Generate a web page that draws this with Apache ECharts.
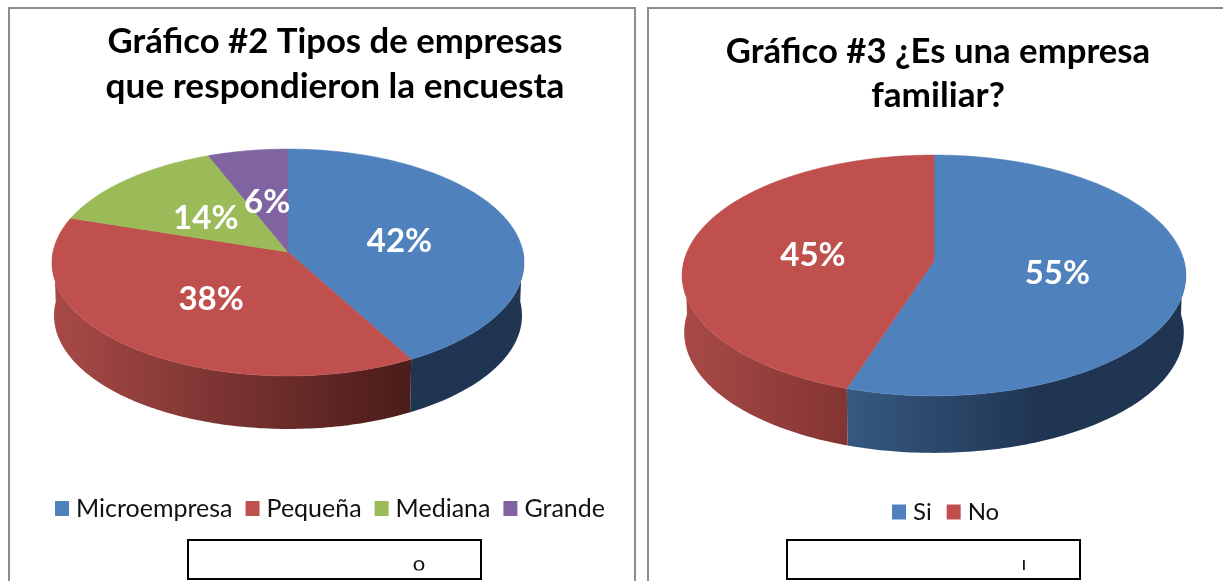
<!DOCTYPE html>
<html>
<head>
<meta charset="utf-8">
<title>Gráficos #2 y #3</title>
<style>
  html, body { margin: 0; padding: 0; background: #fff; }
  #chart { width: 1223px; height: 581px; }
</style>
<script src="https://cdn.jsdelivr.net/npm/echarts@6/dist/echarts.min.js"></script>
</head>
<body>
<div id="chart"></div>
<script>
// datos
var tiposCategorias = ['Microempresa', 'Pequeña', 'Mediana', 'Grande']
var tiposValores = [42, 38, 14, 6]
var familiarCategorias = ['Si', 'No']
var familiarValores = [55, 45]

var FONT = 'Lato'

// geometria de cada torta: circulo en perspectiva (k) con centro en apex
var pieTipos = {
  cx: 288, apexY: 252, a: 235, b: 112.5, k: 0.0925, depth: 53,
  total: tiposValores.reduce(function (x, y) { return x + y }, 0)
}
var pieFamiliar = {
  cx: 934, apexY: 261, a: 250, b: 118.7, k: 0.12, depth: 57,
  total: familiarValores.reduce(function (x, y) { return x + y }, 0)
}

// colores por porcion: cara superior y degradado lateral en x
var coloresTipos = [
  { top: '#4f81bd', from: '#1f3552', to: '#1f3552', x0: 408, x1: 524 },
  { top: '#c0504d', from: '#a84a47', to: '#4a1c1a', x0: 52, x1: 408 },
  { top: '#9bbb59', from: '#7a9446', to: '#4f602d', x0: 52, x1: 408 },
  { top: '#8064a2', from: '#65507f', to: '#40324f', x0: 52, x1: 408 }
]
var coloresFamiliar = [
  { top: '#4f81bd', from: '#36587f', to: '#1f3552', x0: 852, x1: 1040 },
  { top: '#c0504d', from: '#a84a47', to: '#823432', x0: 682, x1: 852 }
]

// punto del borde: r es la fraccion del radio, dy baja la cara lateral
function project(p, angle, r, dy, shrink) {
  var sx = r * Math.sin(angle)
  var sy = -r * Math.cos(angle)
  var w = 1 - p.k * sy
  return [
    p.cx + (p.a - (shrink || 0)) * sx / w,
    p.apexY + p.b * sy / w + (dy || 0)
  ]
}

function arcPoints(p, a0, a1, dy, shrink) {
  var n = Math.max(2, Math.ceil(Math.abs(a1 - a0) * 60))
  var pts = []
  for (var i = 0; i <= n; i++) {
    pts.push(project(p, a0 + (a1 - a0) * i / n, 1, dy, shrink))
  }
  return pts
}

function sliceItem(p, start, col) {
  return function (params, api) {
    var v = api.value(0)
    var a0 = start / p.total * Math.PI * 2
    var a1 = (start + v) / p.total * Math.PI * 2
    var children = []

    // cara lateral, solo la parte frontal
    var s0 = Math.max(a0, Math.PI / 2 - 0.03)
    var s1 = Math.min(a1, Math.PI * 1.5 + 0.03)
    if (s1 > s0) {
      var upper = arcPoints(p, s0, s1, 0, 0)
      var lower = arcPoints(p, s1, s0, p.depth, 2)
      children.push({
        type: 'polygon',
        shape: { points: upper.concat(lower) },
        style: {
          fill: new echarts.graphic.LinearGradient(col.x0, 0, col.x1, 0, [
            { offset: 0, color: col.from },
            { offset: 1, color: col.to }
          ], true)
        }
      })
    }

    // cara superior
    children.push({
      type: 'polygon',
      z2: 10,
      shape: { points: [[p.cx, p.apexY]].concat(arcPoints(p, a0, a1, 0, 0)) },
      style: { fill: col.top, stroke: col.top, lineWidth: 0.5 }
    })

    // etiqueta de porcentaje
    var pos = project(p, (a0 + a1) / 2, 0.495, 3)
    children.push({
      type: 'text',
      z2: 100,
      x: pos[0],
      y: pos[1],
      style: {
        text: Math.round(v / p.total * 100) + '%',
        fill: '#fff',
        font: 'bold 33px ' + FONT,
        align: 'center',
        verticalAlign: 'middle'
      }
    })
    return { type: 'group', children: children }
  }
}

function buildSeries(p, cats, vals, colors) {
  var acum = 0
  return cats.map(function (name, i) {
    var start = acum
    acum += vals[i]
    return {
      name: name,
      type: 'custom',
      coordinateSystem: 'none',
      silent: true,
      animation: false,
      itemStyle: { color: colors[i].top },
      renderItem: sliceItem(p, start, colors[i]),
      data: [[vals[i]]]
    }
  })
}

function legendBase(names, left, top, itemGap, fontSize) {
  return {
    data: names,
    left: left,
    top: top,
    padding: 0,
    icon: 'rect',
    itemWidth: 14,
    itemHeight: 15,
    itemGap: itemGap,
    selectedMode: false,
    textStyle: { fontFamily: FONT, fontSize: fontSize, color: '#111', padding: [0, 0, 0, 2] }
  }
}

function panelLine(x1, y1, x2, y2) {
  return {
    type: 'line',
    z: 1,
    shape: { x1: x1, y1: y1, x2: x2, y2: y2 },
    style: { stroke: '#8c8c8c', lineWidth: 2 }
  }
}

function titleText(text, x, y, size) {
  return {
    type: 'text',
    x: x,
    y: y,
    style: {
      text: text,
      fill: '#000',
      font: 'bold ' + size + 'px ' + FONT,
      align: 'center',
      verticalAlign: 'middle'
    }
  }
}

function captionBox(x, w) {
  return {
    type: 'rect',
    z: 1,
    shape: { x: x, y: 540, width: w, height: 39 },
    style: { fill: '#fff', stroke: '#000', lineWidth: 2 }
  }
}

var chart = echarts.init(document.getElementById('chart'), null, { renderer: 'canvas' })

chart.setOption({
  backgroundColor: '#fff',
  animation: false,
  legend: [
    legendBase(tiposCategorias, 55, 496, 13, 25),
    legendBase(familiarCategorias, 892, 500, 15, 24)
  ],
  series: buildSeries(pieTipos, tiposCategorias, tiposValores, coloresTipos)
    .concat(buildSeries(pieFamiliar, familiarCategorias, familiarValores, coloresFamiliar)),
  graphic: { elements: [
    // marcos de los paneles
    panelLine(9, 7, 9, 581),
    panelLine(8, 8, 636, 8),
    panelLine(635, 7, 635, 581),
    panelLine(648, 7, 648, 581),
    panelLine(647, 8, 1223, 8),
    // titulos
    titleText('Gráfico #2 Tipos de empresas', 335, 42, 34.7),
    titleText('que respondieron la encuesta', 335, 87, 35.2),
    titleText('Gráfico #3 ¿Es una empresa', 938, 52, 34.7),
    titleText('familiar?', 938, 96, 35.2),
    // cuadros inferiores
    captionBox(188, 293),
    captionBox(787, 293),
    {
      type: 'text', x: 419, y: 564, z: 2,
      style: { text: 'o', fill: '#111', font: '22px ' + FONT, align: 'center', verticalAlign: 'middle' }
    },
    {
      type: 'text', x: 1024, y: 564, z: 2,
      style: { text: 'ı', fill: '#111', font: '20px ' + FONT, align: 'center', verticalAlign: 'middle' }
    },
    {
      type: 'rect', z: 3,
      shape: { x: 400, y: 570.5, width: 40, height: 7 },
      style: { fill: '#fff' }
    }
  ] }
})

window.addEventListener('resize', function () { chart.resize() })
</script>
</body>
</html>
